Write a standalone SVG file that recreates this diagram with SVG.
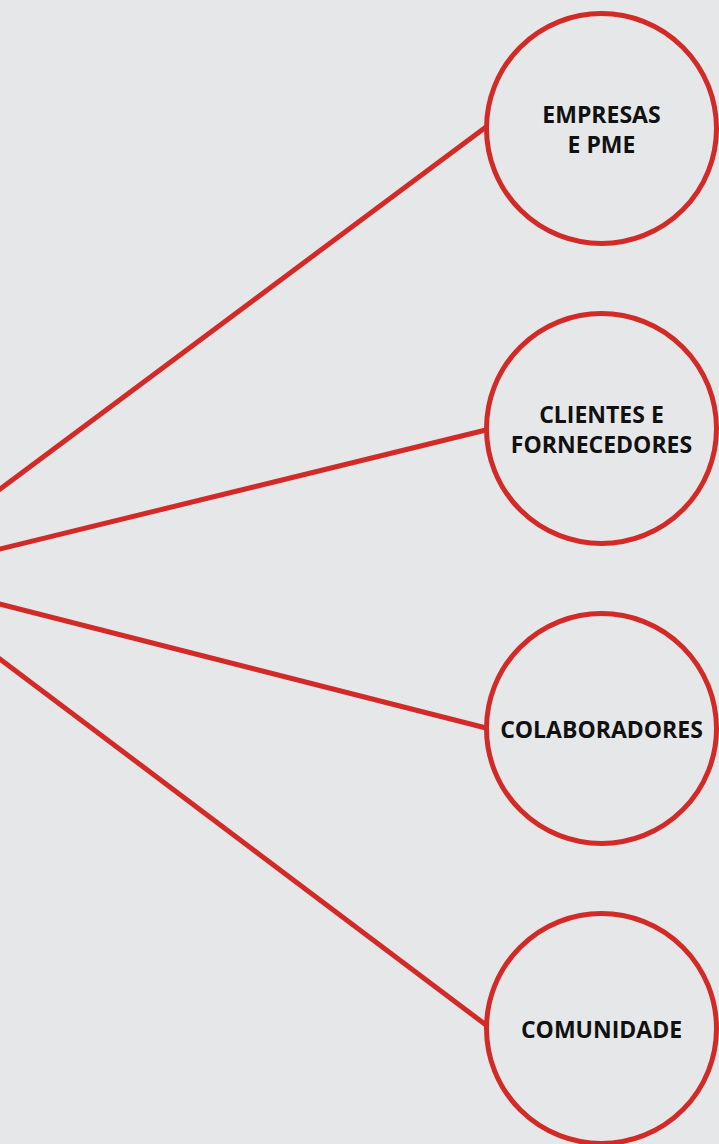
<svg xmlns="http://www.w3.org/2000/svg" width="719" height="1144" viewBox="0 0 719 1144">
<style>
.bg{fill:#e6e7e9}
.conn{stroke:#d12a27;stroke-width:5;fill:none;stroke-linecap:butt}
.node{fill:#e6e7e9;stroke:#d12a27;stroke-width:5}
.lbl{font-family:"Open Sans","Noto Sans","Liberation Sans",sans-serif;font-weight:700;font-size:23px;fill:#111;text-anchor:middle}
</style>
<rect class="bg" x="0" y="0" width="719" height="1144"/>
<g id="connectors">
<line class="conn" x1="-10" y1="496.5" x2="490" y2="124"/>
<line class="conn" x1="-10" y1="551.5" x2="490" y2="429"/>
<line class="conn" x1="-10" y1="601.5" x2="490" y2="729"/>
<line class="conn" x1="-10" y1="651.5" x2="490" y2="1028"/>
</g>
<g id="node-empresas">
<circle class="node" cx="601.5" cy="128.5" r="115"/>
<text class="lbl" x="601.5" y="123">EMPRESAS</text>
<text class="lbl" x="601.5" y="153">E PME</text>
</g>
<g id="node-clientes">
<circle class="node" cx="601.5" cy="428.5" r="115"/>
<text class="lbl" x="601.5" y="423">CLIENTES E</text>
<text class="lbl" x="601.5" y="453">FORNECEDORES</text>
</g>
<g id="node-colaboradores">
<circle class="node" cx="601.5" cy="728.5" r="115"/>
<text class="lbl" x="601.5" y="738">COLABORADORES</text>
</g>
<g id="node-comunidade">
<circle class="node" cx="601.5" cy="1028.5" r="115"/>
<text class="lbl" x="601.5" y="1038">COMUNIDADE</text>
</g>
</svg>
